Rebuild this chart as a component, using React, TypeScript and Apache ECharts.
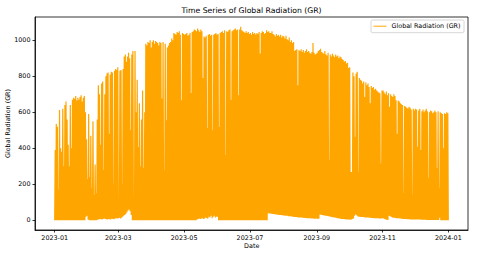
import React, { useEffect, useRef } from "react";
import * as echarts from "echarts";

// Daily peak of Global Radiation (GR), per month of 2023
const peakJan = [390, 535, 520, 170, 612, 400, 380, 620, 300, 640, 660, 560, 420, 300, 640, 400, 670, 680, 675, 690, 665, 680, 670, 685, 695, 660, 680, 690, 600, 450, 230];
const peakFeb = [590, 240, 470, 180, 550, 140, 310, 150, 560, 750, 700, 420, 760, 770, 280, 700, 800, 815, 820, 480, 810, 825, 820, 200, 830, 840, 835, 850];
const peakMar = [120, 830, 835, 200, 840, 910, 920, 880, 909, 930, 900, 500, 920, 940, 128, 940, 600, 780, 407, 650, 300, 560, 720, 290, 600, 980, 970, 990, 985, 1000, 960];
const peakApr = [990, 1000, 980, 995, 990, 985, 970, 990, 985, 676, 990, 278, 980, 556, 960, 970, 985, 990, 1010, 1000, 1040, 1035, 1030, 1045, 1040, 1050, 1030, 667, 1040, 1035];
const peakMay = [1030, 1035, 1040, 1025, 1030, 1040, 707, 1045, 1050, 1060, 1055, 1050, 1065, 1055, 1045, 1060, 1050, 790, 1020, 1015, 1025, 512, 1030, 1035, 1025, 1030, 500, 1030, 1035, 1040, 1030];
const peakJun = [1035, 518, 1040, 1045, 1050, 1040, 1055, 363, 1050, 1045, 1055, 1060, 668, 1050, 1055, 1060, 1065, 1055, 1060, 695, 1060, 1075, 1055, 1050, 1045, 1040, 1050, 1040, 1045, 1035];
const peakJul = [1040, 1030, 1045, 1035, 1040, 1030, 1040, 1035, 1045, 926, 1040, 1050, 1045, 1035, 1040, 1055, 1045, 1050, 1040, 1040, 1050, 1035, 1030, 1020, 1035, 1025, 1030, 1020, 1030, 1015, 1025];
const peakAug = [1020, 1010, 1025, 1005, 1000, 1015, 990, 1000, 985, 990, 940, 945, 950, 750, 945, 940, 950, 935, 945, 930, 940, 950, 935, 940, 930, 925, 935, 985, 930, 920, 925];
const peakSep = [930, 940, 945, 953, 935, 930, 925, 940, 920, 915, 930, 335, 920, 910, 925, 915, 905, 920, 910, 915, 900, 910, 905, 895, 890, 880, 885, 870, 875, 845];
const peakOct = [850, 268, 268, 820, 800, 463, 815, 825, 270, 790, 780, 775, 760, 770, 685, 765, 750, 760, 740, 650, 745, 735, 740, 725, 730, 720, 715, 710, 705, 315, 720];
const peakNov = [720, 710, 700, 715, 695, 705, 630, 700, 690, 685, 700, 690, 667, 481, 665, 660, 650, 645, 640, 150, 635, 630, 625, 620, 630, 625, 615, 140, 620, 610];
const peakDec = [620, 615, 408, 610, 620, 390, 605, 615, 600, 610, 620, 605, 234, 600, 610, 605, 595, 600, 610, 600, 290, 605, 180, 600, 595, 590, 400, 595, 590, 600, 595];

const nightJan = [0, 0, 0, 0, 0, 0, 0, 0, 0, 0, 0, 0, 0, 0, 0, 0, 0, 0, 0, 0, 0, 0, 0, 0, 0, 0, 0, 0, 0, 20, 25];
const nightFeb = [5, 0, 0, 0, 0, 0, 0, 0, 0, 5, 5, 8, 6, 5, 8, 10, 8, 6, 5, 8, 6, 5, 10, 8, 6, 10, 12, 10];
const nightMar = [12, 15, 10, 15, 20, 25, 30, 35, 45, 55, 60, 50, 30, 0, 0, 0, 0, 0, 0, 0, 0, 0, 0, 0, 0, 0, 0, 0, 0, 0, 0];
const nightApr = [0, 0, 0, 0, 0, 0, 0, 0, 0, 0, 0, 0, 0, 0, 0, 0, 0, 0, 0, 0, 0, 0, 0, 0, 0, 0, 0, 0, 0, 0];
const nightMay = [0, 0, 0, 0, 0, 0, 0, 0, 0, 0, 0, 0, 5, 8, 10, 8, 10, 12, 8, 10, 15, 12, 10, 20, 15, 25, 12, 20, 25, 15, 20];
const nightJun = [20, 0, 0, 0, 0, 0, 0, 0, 0, 0, 0, 0, 0, 0, 0, 0, 0, 0, 0, 0, 0, 0, 0, 0, 0, 0, 0, 0, 0, 0];
const nightJul = [0, 0, 0, 0, 0, 0, 0, 0, 0, 0, 0, 0, 0, 0, 0, 0, 0, 39, 38, 38, 36, 35, 35, 34, 33, 33, 31, 30, 30, 29, 28];
const nightAug = [27, 27, 26, 25, 25, 23, 22, 22, 21, 20, 19, 18, 18, 17, 16, 16, 15, 15, 14, 14, 13, 13, 12, 12, 11, 11, 10, 10, 10, 9, 9];
const nightSep = [10, 8, 10, 33, 31, 30, 28, 27, 26, 25, 24, 22, 21, 20, 18, 17, 16, 15, 14, 12, 11, 10, 9, 8, 8, 7, 6, 6, 5, 5];
const nightOct = [5, 3, 5, 8, 10, 25, 33, 28, 22, 20, 20, 19, 18, 18, 17, 16, 16, 15, 15, 14, 14, 13, 13, 12, 12, 12, 11, 11, 10, 10, 10];
const nightNov = [12, 10, 8, 5, 3, 2, 25, 22, 20, 15, 14, 14, 13, 12, 12, 11, 10, 10, 9, 8, 8, 7, 7, 6, 6, 6, 5, 5, 5, 5];
const nightDec = [5, 5, 4, 4, 4, 4, 3, 3, 3, 3, 3, 2, 2, 2, 2, 2, 2, 2, 2, 2, 2, 2, 2, 15, 0, 0, 0, 0, 0, 0, 0];

const xTickLabels = ["2023-01", "2023-03", "2023-05", "2023-07", "2023-09", "2023-11", "2024-01"];
const yTickValues = [0, 200, 400, 600, 800, 1000];

const TITLE = "Time Series of Global Radiation (GR)";
const SERIES_NAME = "Global Radiation (GR)";
const X_NAME = "Date";
const Y_NAME = "Global Radiation (GR)";

const peaks = [...peakJan, ...peakFeb, ...peakMar, ...peakApr, ...peakMay, ...peakJun, ...peakJul, ...peakAug, ...peakSep, ...peakOct, ...peakNov, ...peakDec];
const nights = [...nightJan, ...nightFeb, ...nightMar, ...nightApr, ...nightMay, ...nightJun, ...nightJul, ...nightAug, ...nightSep, ...nightOct, ...nightNov, ...nightDec];

const HOUR = 3600 * 1000;
const DAY = 24 * HOUR;
const START = Date.UTC(2023, 0, 1);

function buildData() {
  const out: [number, number][] = [];
  for (let i = 0; i < peaks.length; i++) {
    const t0 = START + i * DAY;
    out.push([t0, nights[i]]);
    out.push([t0 + 12 * HOUR, peaks[i]]);
  }
  const last = peaks.length - 1;
  out.push([START + last * DAY + 23 * HOUR, nights[last]]);
  return out;
}

function tickTime(s: string) {
  const [y, m] = s.split("-").map(Number);
  return Date.UTC(y, m - 1, 1);
}

function fmt(v: number) {
  const d = new Date(v);
  const m = d.getUTCMonth() + 1;
  return d.getUTCFullYear() + "-" + (m < 10 ? "0" + m : "" + m);
}

const FONT = "DejaVu Sans";
const ORANGE = "#FFA500";

export default function App() {
  const ref = useRef<HTMLDivElement>(null);
  useEffect(() => {
    if (!ref.current) return;
    const chart = echarts.init(ref.current, null, { renderer: "svg" });
    const data = buildData();
    const dataStart = data[0][0];
    const dataEnd = data[data.length - 1][0];
    const pad = (dataEnd - dataStart) * 0.05;
    const xTicks = xTickLabels.map(tickTime);
    const dataMax = Math.max(...peaks);
    const yPad = dataMax * 0.05;

    chart.setOption({
      animation: false,
      backgroundColor: "#fff",
      grid: {
        left: 35,
        right: 12,
        top: 17,
        bottom: 25,
        show: true,
        borderColor: "#000",
        borderWidth: 0.8,
        backgroundColor: "transparent",
      },
      xAxis: {
        type: "value",
        min: dataStart - pad,
        max: dataEnd + pad,
        scale: true,
        splitLine: { show: false },
        axisLine: { show: true, onZero: false, lineStyle: { color: "#000", width: 0.8 } },
        axisTick: { show: true, customValues: xTicks, length: 2.5, lineStyle: { color: "#000", width: 0.8 } },
        axisLabel: {
          customValues: xTicks,
          formatter: (v: number) => fmt(v),
          fontFamily: FONT,
          fontSize: 6.4,
          color: "#000",
          margin: 4.5,
          hideOverlap: false,
        },
      },
      yAxis: {
        type: "value",
        min: -yPad,
        max: dataMax + yPad,
        splitLine: { show: false },
        axisLine: { show: true, onZero: false, lineStyle: { color: "#000", width: 0.8 } },
        axisTick: { show: true, customValues: yTickValues, length: 2.5, lineStyle: { color: "#000", width: 0.8 } },
        axisLabel: {
          customValues: yTickValues,
          formatter: (v: number) => String(v),
          fontFamily: FONT,
          fontSize: 6.4,
          color: "#000",
          margin: 4.5,
        },
      },
      series: [
        {
          name: SERIES_NAME,
          type: "line",
          data,
          showSymbol: false,
          symbol: "none",
          silent: true,
          lineStyle: { color: ORANGE, width: 1.2 },
          itemStyle: { color: ORANGE },
        },
      ],
      graphic: [
        {
          type: "text",
          x: 251.5,
          y: 10.5,
          style: { text: TITLE, fontFamily: FONT, fontSize: 7.7, fill: "#000", align: "center", verticalAlign: "middle" },
        },
        {
          type: "text",
          x: 8.3,
          y: 123.5,
          rotation: Math.PI / 2,
          style: { text: Y_NAME, fontFamily: FONT, fontSize: 6.4, fill: "#000", align: "center", verticalAlign: "middle" },
        },
        {
          type: "text",
          x: 251.7,
          y: 246,
          style: { text: X_NAME, fontFamily: FONT, fontSize: 6.4, fill: "#000", align: "center", verticalAlign: "middle" },
        },
        {
          type: "rect",
          shape: { x: 371, y: 20, width: 93, height: 12.7, r: 1.5 },
          style: { fill: "rgba(255,255,255,0.8)", stroke: "#cccccc", lineWidth: 0.8 },
          z: 10,
        },
        {
          type: "line",
          shape: { x1: 373.5, y1: 26.2, x2: 386.5, y2: 26.2 },
          style: { stroke: ORANGE, lineWidth: 1 },
          z: 11,
        },
        {
          type: "text",
          x: 391.5,
          y: 26.4,
          style: { text: SERIES_NAME, fontFamily: FONT, fontSize: 6.4, fill: "#000", align: "left", verticalAlign: "middle" },
          z: 11,
        },
      ],
    });
    return () => chart.dispose();
  }, []);
  return <div ref={ref} style={{ width: 480, height: 255, position: "absolute", left: 0, top: 0 }} />;
}
